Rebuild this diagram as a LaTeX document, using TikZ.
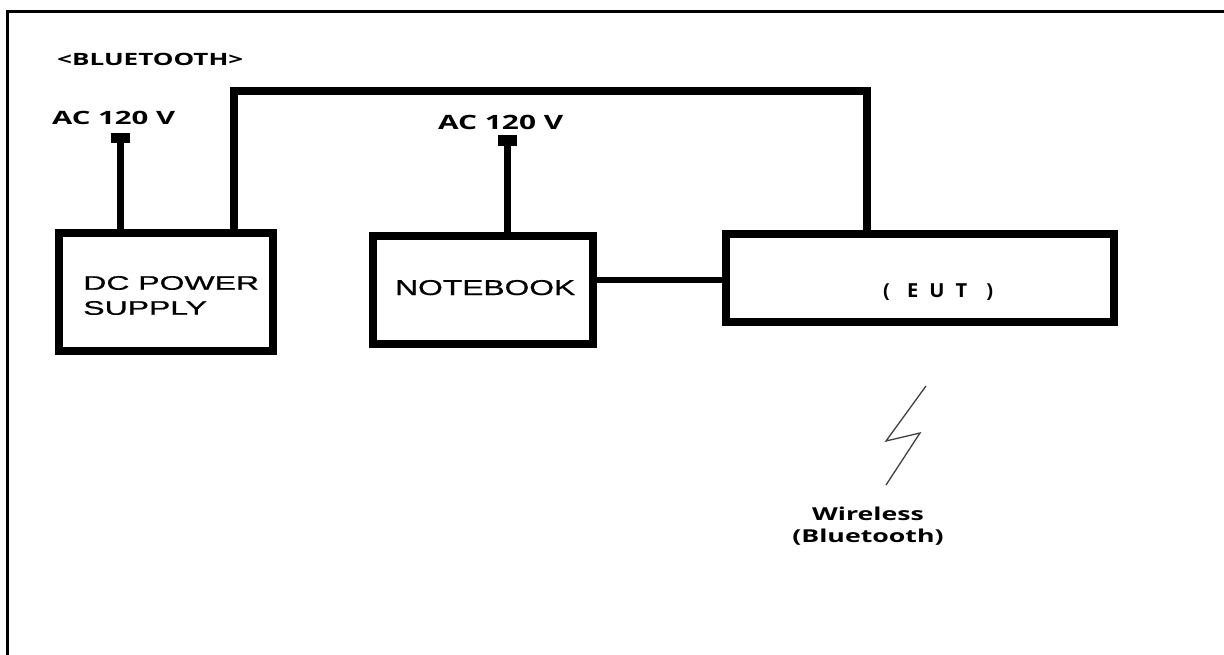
\documentclass[tikz,border=0pt]{standalone}
\usepackage{fontspec}
\usepackage{graphicx}
\setmainfont{Liberation Sans}
\newfontfamily\labfont{Open Sans}
\begin{document}
\begin{tikzpicture}[x=1pt,y=-1pt,
  box/.style={draw,line width=8pt,inner sep=0pt,line join=miter},
  cable/.style={line width=8pt,line join=miter},
  acline/.style={line width=7pt},
  thincable/.style={line width=6.5pt},
  plug/.style={fill,inner sep=0pt,minimum width=19pt,minimum height=10pt},
  lab/.style={inner sep=0pt,anchor=base west,font=\labfont\bfseries},
  bolt/.style={line width=1.3pt,black!75},
]
\useasboundingbox (0,0) rectangle (1224,655);
\fill[white] (0,0) rectangle (1224,655);
% frame
\draw[line width=2.8pt] (7.2,655) -- (7.2,11.5) -- (1224,11.5);

% boxes
\node[box,minimum width=214.5pt,minimum height=118.5pt] (dc) at (166,292) {};
\node[box,minimum width=220.5pt,minimum height=108.5pt] (nb) at (483,290) {};
\node[box,minimum width=388.5pt,minimum height=88.5pt] (eut) at (920,278) {};

% box texts
\node[anchor=west,inner sep=0pt,align=left,xscale=1.63,
      font=\fontsize{19.6}{25}\selectfont\addfontfeature{FakeBold=0.6}] (dctext) at (83,295.5) {DC POWER\\SUPPLY};
\node[anchor=base west,inner sep=0pt,font=\addfontfeature{FakeBold=0.6}] (nbtext) at (395,295) {\resizebox{180pt}{15pt}{NOTEBOOK}};
\node[lab] (euttext) at (883,297) {\resizebox{110pt}{13.8pt}{(\hspace{8.5pt}E\hspace{5.5pt}U\hspace{5.5pt}T\hspace{9.5pt})}};

% labels
\node[lab] (bt) at (57,65.7) {\resizebox{186pt}{12.3pt}{<BLUETOOTH>}};
\node[lab] (acL) at (52,125) {\resizebox{123pt}{13.3pt}{AC 120 V}};
\node[lab] (acR) at (438,129.3) {\resizebox{125pt}{14.3pt}{AC 120 V}};

% plugs
\node[plug] (plA) at (120.5,138) {};
\node[plug,minimum height=11pt] (plB) at (507.5,140.5) {};
\draw[acline] (plA) -- (plA |- dc.north);
\draw[acline,line width=6.5pt] (plB) -- (plB |- nb.north);

% power cable DC -> EUT
\coordinate (p1) at (233.5,91.5);
\coordinate (p2) at (867,91.5);
\draw[cable] (p1 |- dc.north) -- (p1) -- (p2) -- (p2 |- eut.north);

% notebook -> EUT
\coordinate (lk) at (660,280);
\draw[thincable] (nb.east |- lk) -- (eut.west |- lk);

% wireless symbol
\coordinate (b1) at (926,386);
\coordinate (b2) at (886,441);
\coordinate (b3) at (920,433);
\coordinate (b4) at (886,485);
\draw[bolt] (b1) -- (b2) -- (b3) -- (b4);
\node[inner sep=0pt,align=center,xscale=1.5,
      font=\labfont\bfseries\fontsize{17.8}{22.7}\selectfont] (wl) at (868,526) {Wireless\\(Bluetooth)};
\end{tikzpicture}
\end{document}
